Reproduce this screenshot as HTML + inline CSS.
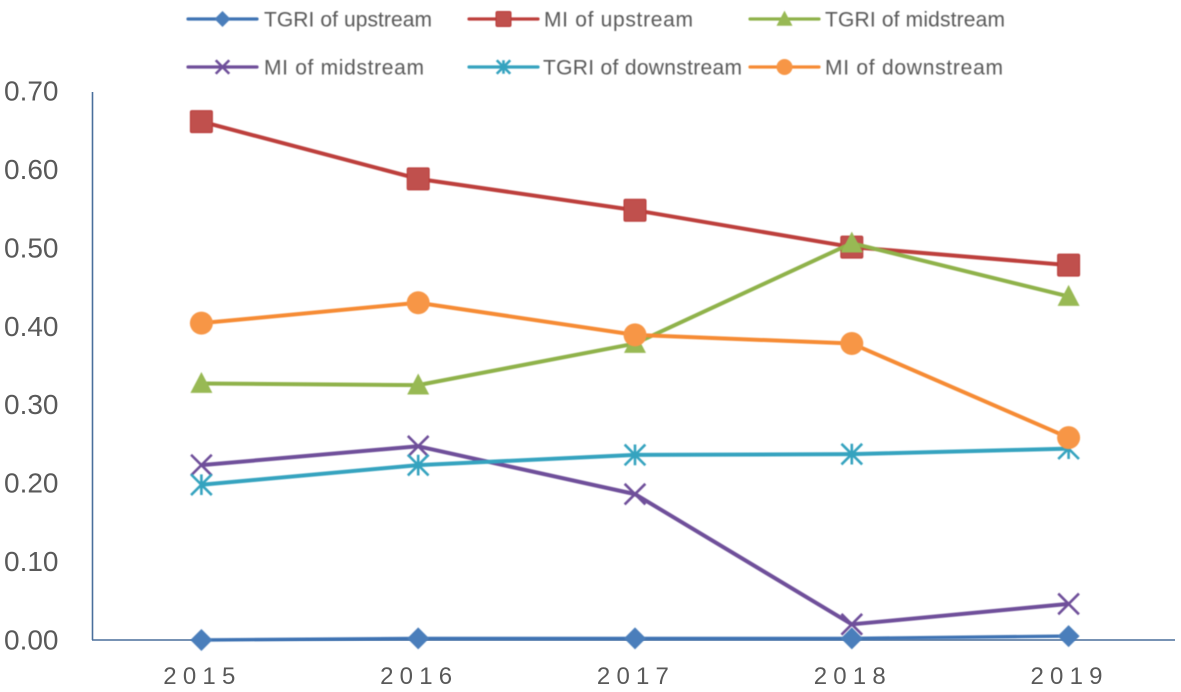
<!DOCTYPE html>
<html lang="en">
<head>
<meta charset="utf-8">
<title>TGRI and MI by stream</title>
<style>
html,body{margin:0;padding:0;background:#fff;}
#chart{display:block;width:1181px;height:692px;font-family:"Liberation Sans",sans-serif;}
#plot,#legend{filter:blur(0.45px);}
</style>
</head>
<body>
<svg id="chart" xmlns="http://www.w3.org/2000/svg" width="1181" height="692" viewBox="0 0 1181 692">
<g id="axes"></g>
<g id="plot"></g>
<g id="legend"></g>
</svg>
<script>
const categories = ['2015', '2016', '2017', '2018', '2019'];
const yTicks = [0, 0.1, 0.2, 0.3, 0.4, 0.5, 0.6, 0.7];
const tgriUpstream = [0.000, 0.002, 0.002, 0.002, 0.005];
const miUpstream = [0.661, 0.588, 0.548, 0.501, 0.478];
const tgriMidstream = [0.327, 0.325, 0.378, 0.506, 0.438];
const miMidstream = [0.223, 0.247, 0.186, 0.020, 0.046];
const tgriDownstream = [0.198, 0.223, 0.236, 0.237, 0.244];
const miDownstream = [0.404, 0.430, 0.389, 0.378, 0.258];

const series = [
  {label: 'TGRI of upstream', key: 'tgri-upstream', values: tgriUpstream, line: '#3f73b3', fill: '#4a7ebb', marker: 'diamond', labelShift: 0, labelWidth: 168},
  {label: 'MI of upstream', key: 'mi-upstream', values: miUpstream, line: '#bd3f3c', fill: '#c0504d', marker: 'square', labelShift: -1, labelWidth: 149},
  {label: 'TGRI of midstream', key: 'tgri-midstream', values: tgriMidstream, line: '#8fb24a', fill: '#98b954', marker: 'triangle', labelShift: -1, labelWidth: 180},
  {label: 'MI of midstream', key: 'mi-midstream', values: miMidstream, line: '#6f4f9a', fill: '#6f4f9a', marker: 'cross', labelShift: 0, labelWidth: 160},
  {label: 'TGRI of downstream', key: 'tgri-downstream', values: tgriDownstream, line: '#35a3bf', fill: '#35a3bf', marker: 'star', labelShift: -2, labelWidth: 199},
  {label: 'MI of downstream', key: 'mi-downstream', values: miDownstream, line: '#f68b34', fill: '#f79646', marker: 'circle', labelShift: -1, labelWidth: 178}
];

const NS = 'http://www.w3.org/2000/svg';
const axisLeft = 92, axisRight = 1175;
const bandLeft = 93, bandRight = 1177;
const plotBottom = 640, plotTop = 91;
const yMax = 0.7;
function xScale(i) { return bandLeft + (bandRight - bandLeft) * (i + 0.5) / categories.length; }
function yScale(v) { return plotBottom - (plotBottom - plotTop) * v / yMax; }

function make(tag, attrs, parent) {
  const el = document.createElementNS(NS, tag);
  for (const k in attrs) el.setAttribute(k, attrs[k]);
  parent.appendChild(el);
  return el;
}

function drawMarker(type, cx, cy, s, color, parent) {
  let el;
  if (type === 'diamond') {
    el = make('polygon', {points: [[cx, cy - s], [cx + s, cy], [cx, cy + s], [cx - s, cy]].join(' '), fill: color}, parent);
  } else if (type === 'square') {
    el = make('rect', {x: cx - s, y: cy - s, width: 2 * s, height: 2 * s, rx: 1.5, fill: color, stroke: '#b93a38', 'stroke-width': 1}, parent);
  } else if (type === 'triangle') {
    el = make('polygon', {points: [[cx, cy - s * 1.05], [cx + s, cy + s * 0.85], [cx - s, cy + s * 0.85]].join(' '), fill: color}, parent);
  } else if (type === 'circle') {
    el = make('circle', {cx: cx, cy: cy, r: s, fill: color}, parent);
  } else {
    const d = s * 0.9;
    let path = 'M' + (cx - d) + ' ' + (cy - d) + 'L' + (cx + d) + ' ' + (cy + d) + 'M' + (cx - d) + ' ' + (cy + d) + 'L' + (cx + d) + ' ' + (cy - d);
    if (type === 'star') path += 'M' + cx + ' ' + (cy - d) + 'L' + cx + ' ' + (cy + d);
    el = make('path', {d: path, fill: 'none', stroke: color, 'stroke-width': 2.6}, parent);
  }
  return el;
}

const axes = document.getElementById('axes');
const plot = document.getElementById('plot');
const legend = document.getElementById('legend');

const yAxis = make('line', {x1: axisLeft + 0.5, y1: 92, x2: axisLeft + 0.5, y2: plotBottom, stroke: '#4a6f9c', 'stroke-width': 1.6}, axes);


const xAxis = make('line', {x1: axisLeft, y1: plotBottom, x2: axisRight, y2: plotBottom, stroke: '#4a6f9c', 'stroke-width': 1.6}, axes);



yTicks.forEach(function (t) {
  const el = make('text', {x: 4, y: yScale(t) + 9.5, 'font-size': 28, fill: '#595959'}, axes);
  el.textContent = t.toFixed(2);
  
  
});

categories.forEach(function (c, i) {
  const el = make('text', {x: xScale(i) + 1, y: 684, 'font-size': 24, 'letter-spacing': 6.2, 'text-anchor': 'middle', fill: '#595959'}, axes);
  el.textContent = c;
  
  
});

const markerSize = {diamond: 11, square: 11, triangle: 11, cross: 11.5, star: 11.5, circle: 11.5};

series.forEach(function (s) {
  const g = make('g', {}, plot);
  
  
  const pts = s.values.map(function (v, i) { return xScale(i) + ',' + yScale(v); }).join(' ');
  const line = make('polyline', {points: pts, fill: 'none', stroke: s.line, 'stroke-width': s.marker === 'diamond' ? 3.4 : 4, 'stroke-linejoin': 'round'}, g);
  
  
  s.values.forEach(function (v, i) {
    const m = drawMarker(s.marker, xScale(i), yScale(v), markerSize[s.marker], s.fill, g);
    
    
  });
});

const legendMarker = {diamond: 8, square: 7.5, triangle: 8, cross: 7.5, star: 7.5, circle: 8};

series.forEach(function (s, i) {
  const col = i % 3, row = Math.floor(i / 3);
  const lx = 188 + col * 281, ly = 19 + row * 48;
  const g = make('g', {}, legend);
  
  
  make('line', {x1: lx, y1: ly, x2: lx + 69, y2: ly, stroke: s.line, 'stroke-width': 3.2, 'stroke-linecap': 'round'}, g);
  drawMarker(s.marker, lx + 34.5, ly, legendMarker[s.marker], s.fill, g);
  const t = make('text', {x: lx + 76 + s.labelShift, y: ly + 7.5, 'font-size': 21, textLength: s.labelWidth, lengthAdjust: 'spacing', fill: '#595959'}, g);
  t.textContent = s.label;
});
</script>
</body>
</html>
